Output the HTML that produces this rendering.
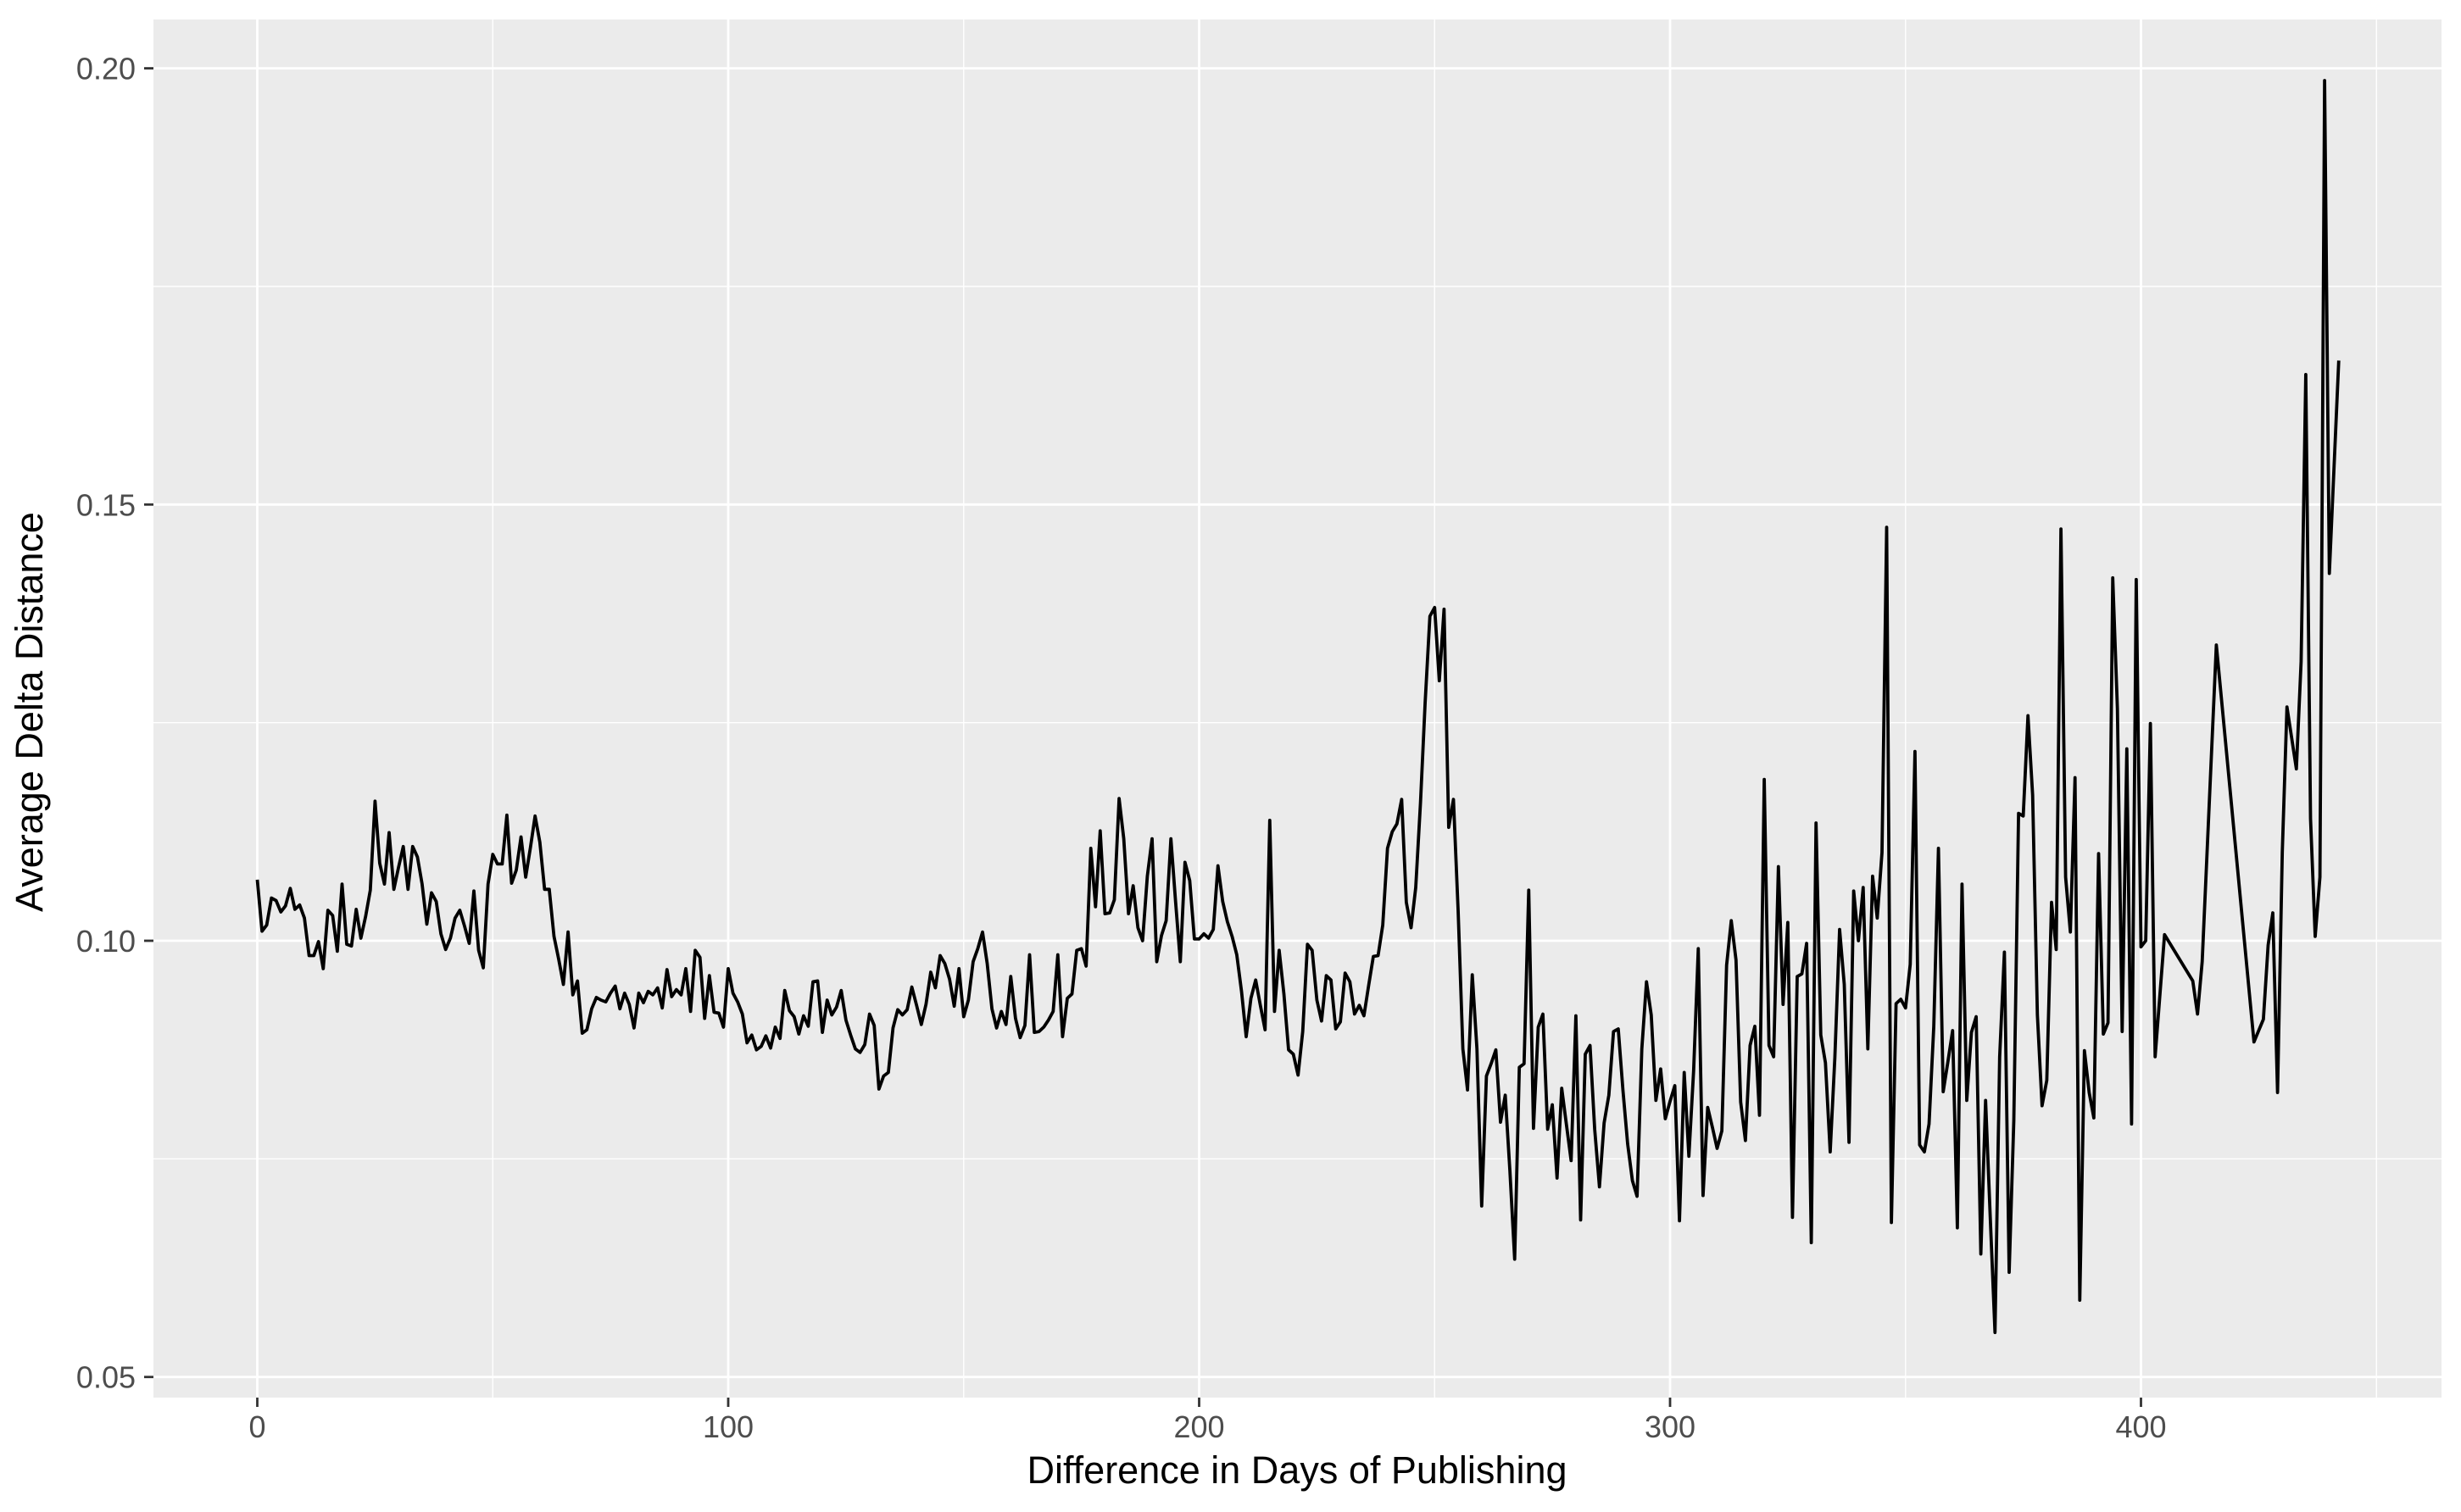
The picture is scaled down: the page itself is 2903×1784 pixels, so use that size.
<!DOCTYPE html>
<html><head><meta charset="utf-8"><style>
html,body{margin:0;padding:0;background:#fff;}
svg{display:block;font-family:"Liberation Sans",sans-serif;}
</style></head><body>
<svg id="chart" width="2903" height="1784" viewBox="0 0 2903 1784" xmlns="http://www.w3.org/2000/svg">
<rect x="0" y="0" width="2903" height="1784" fill="#ffffff"/>
<rect x="181" y="23" width="2699" height="1626" fill="#EBEBEB"/>
<g id="grid"></g>
<g id="axes"></g>
<g id="series"></g>
<text x="1530" y="1750" font-size="45" text-anchor="middle" fill="#000">Difference in Days of Publishing</text>
<text transform="translate(50,840) rotate(-90)" font-size="45" text-anchor="middle" fill="#000">Average Delta Distance</text>
</svg>
<script>
const xMajorTicks = [0, 100, 200, 300, 400];
const xMinorTicks = [50, 150, 250, 350, 450];
const yMajorTicks = [0.05, 0.10, 0.15, 0.20];
const yMinorTicks = [0.075, 0.125, 0.175];
const yTickLabels = ["0.05", "0.10", "0.15", "0.20"];
const xTickLabels = ["0", "100", "200", "300", "400"];
const denseStartDay = 0;
const denseValues = [
0.1070,0.1011,0.1018,0.1049,0.1046,0.1033,0.1040,0.1060,0.1036,0.1041,
0.1026,0.0983,0.0983,0.0999,0.0968,0.1035,0.1029,0.0988,0.1065,0.0996,
0.0994,0.1036,0.1003,0.1028,0.1058,0.1160,0.1089,0.1065,0.1124,0.1059,
0.1084,0.1108,0.1059,0.1108,0.1096,0.1065,0.1019,0.1055,0.1045,0.1008,
0.0990,0.1003,0.1026,0.1035,0.1017,0.0997,0.1057,0.0989,0.0969,0.1065,
0.1099,0.1088,0.1088,0.1144,0.1066,0.1081,0.1119,0.1073,0.1107,0.1143,
0.1113,0.1059,0.1059,0.1005,0.0979,0.0950,0.1010,0.0938,0.0954,0.0894,
0.0898,0.0922,0.0935,0.0932,0.0930,0.0940,0.0948,
0.0922,0.0940,0.0927,0.0900,0.0940,0.0929,0.0942,0.0938,0.0946,0.0923,
0.0967,0.0936,0.0944,0.0938,0.0968,0.0919,0.0989,0.0981,0.0911,0.0960,
0.0918,0.0917,0.0901,0.0968,0.0940,0.0930,0.0916,0.0883,0.0892,0.0875,
0.0879,0.0891,0.0877,0.0901,0.0888,0.0943,0.0920,0.0913,0.0893,0.0914,
0.0902,0.0953,0.0954,0.0895,0.0932,0.0915,0.0924,0.0943,0.0909,0.0892,
0.0876,0.0872,0.0881,0.0916,0.0903,0.0830,0.0845,0.0849,0.0900,0.0921,
0.0915,0.0921,0.0947,0.0926,0.0904,0.0927,0.0964,0.0946,0.0983,0.0974,
0.0956,0.0925,0.0968,0.0913,0.0932,0.0976,0.0991,0.1010,0.0974,0.0922,
0.0900,0.0919,0.0904,0.0959,0.0911,0.0889,0.0903,0.0984,0.0895,0.0896,
0.0901,0.0909,0.0919,0.0984,0.0890,0.0934,0.0939,0.0989,0.0991,0.0971,
0.1106,0.1039,0.1126,0.1031,0.1032,0.1047,0.1163,0.1117,0.1031,0.1063,
0.1015,0.1000,0.1074,0.1117,0.0976,0.1006,0.1023,0.1117,0.1045,0.0976,
0.1090,0.1069,0.1002,0.1002,0.1008,0.1003,0.1013,0.1086,0.1045,0.1022,
0.1005,0.0984,0.0942,0.0890,0.0934,0.0955,0.0926,0.0898,0.1138,0.0919,
0.0989,0.0939,0.0875,0.0870,0.0846,0.0896,
0.0996,0.0989,0.0932,0.0908,0.0960,0.0955,0.0899,0.0907,
0.0963,0.0953,0.0916,0.0926,0.0914,0.0949,0.0982,0.0983,0.1018,0.1106,
0.1125,0.1134,0.1162,0.1044,0.1015,0.1061,0.1158,0.1273,0.1372,0.1382,
0.1298,0.1380,0.1130,0.1162,0.1035,0.0876,0.0829,0.0961,0.0876,0.0696,
0.0845,0.0859,0.0875,0.0792,0.0823,0.0736,0.0635,0.0855,0.0859,0.1058,
0.0785,0.0901,0.0916,0.0784,0.0812,0.0728,0.0831,0.0789,0.0748,0.0914,
0.0680,0.0870,0.0880,0.0784,0.0718,0.0791,0.0823,0.0896,0.0899,0.0829,
0.0767,0.0725,0.0707,0.0876,0.0953,0.0915,0.0817,0.0853,
0.0796,0.0816,0.0834,0.0679,0.0849,0.0753,0.0851,0.0991,0.0708,0.0809,
0.0786,0.0762,0.0782,0.0972,0.1023,0.0978,0.0815,0.0771,0.0880,0.0902,
0.0800,0.1185,0.0880,0.0867,0.1085,0.0927,0.1021,0.0683,0.0959,0.0962,
0.0997,0.0654,0.1135,0.0892,0.0860,0.0758,0.0866,0.1013,0.0950,0.0769,
0.1057,0.1000,0.1061,0.0876,0.1074,0.1026,0.1101,0.1474,0.0677,0.0928,
0.0933,0.0923,0.0973,0.1217,0.0766,0.0758,0.0790,0.0902,0.1106,0.0827,
0.0861,0.0897,0.0671,0.1065,0.0817,0.0895,0.0913,0.0641,0.0817,0.0683,
0.0551,0.0867,0.0987,0.0620,0.0794,0.1146,0.1143,0.1258,0.1167,0.0915,
0.0811,
0.0840,0.1044,0.0990,0.1472,0.1073,0.1010,0.1187,0.0588,0.0874,0.0826,
0.0797,0.1100,0.0893,0.0906,0.1416,0.1266,0.0896,0.1220,0.0790,0.1414,
0.0993,0.1000,0.1249,0.0867
];
const tailDays = [405,411,412,413,416,424,426,427,428,429,430,431,433,434,435,436,437,438,439,440,442];
const tailValues = [0.1007,0.0954,0.0916,0.0976,0.1339,0.0884,0.0910,0.0995,0.1032,0.0826,0.1102,0.1268,0.1197,0.1320,0.1649,0.1140,0.1005,0.1073,0.1986,0.1421,0.1665];

const NS = "http://www.w3.org/2000/svg";
const panel = {left:181, right:2880, top:23, bottom:1649};
function xScale(d){ return 303.5 + d * 5.555; }
function yScale(v){ return 1110 - (v - 0.10) * 10294; }
function mk(tag, attrs, parent){
  const e = document.createElementNS(NS, tag);
  for (const k in attrs) e.setAttribute(k, attrs[k]);
  parent.appendChild(e);
  return e;
}
const grid = document.getElementById('grid');
const axes = document.getElementById('axes');
const series = document.getElementById('series');

yMinorTicks.forEach(v => {
  const l = mk('line', {x1:panel.left, x2:panel.right, y1:yScale(v), y2:yScale(v), stroke:'#fff', 'stroke-width':1.4}, grid);
  
  
});
xMinorTicks.forEach(d => {
  const l = mk('line', {x1:xScale(d), x2:xScale(d), y1:panel.top, y2:panel.bottom, stroke:'#fff', 'stroke-width':1.4}, grid);
  
  
});
yMajorTicks.forEach((v, i) => {
  const y = yScale(v);
  const l = mk('line', {x1:panel.left, x2:panel.right, y1:y, y2:y, stroke:'#fff', 'stroke-width':2.8}, grid);
  
  
  const t = mk('line', {x1:170, x2:panel.left, y1:y, y2:y, stroke:'#333', 'stroke-width':2.8}, axes);
  
  
  const tx = mk('text', {x:160, y:y + 13, 'font-size':36, 'text-anchor':'end', fill:'#4d4d4d'}, axes);
  tx.textContent = yTickLabels[i];
  
  
});
xMajorTicks.forEach((d, i) => {
  const x = xScale(d);
  const l = mk('line', {x1:x, x2:x, y1:panel.top, y2:panel.bottom, stroke:'#fff', 'stroke-width':2.8}, grid);
  
  
  const t = mk('line', {x1:x, x2:x, y1:panel.bottom, y2:1660, stroke:'#333', 'stroke-width':2.8}, axes);
  
  
  const tx = mk('text', {x:x, y:1696, 'font-size':36, 'text-anchor':'middle', fill:'#4d4d4d'}, axes);
  tx.textContent = xTickLabels[i];
  
  
});

const pts = [];
denseValues.forEach((v, i) => pts.push([denseStartDay + i, v]));
tailDays.forEach((d, i) => pts.push([d, tailValues[i]]));
const dstr = pts.map((p, i) => (i ? 'L' : 'M') + xScale(p[0]).toFixed(1) + ' ' + yScale(p[1]).toFixed(1)).join(' ');
const path = mk('path', {d:dstr, fill:'none', stroke:'#000', 'stroke-width':3.8, 'stroke-linejoin':'round'}, series);


</script>
</body></html>
